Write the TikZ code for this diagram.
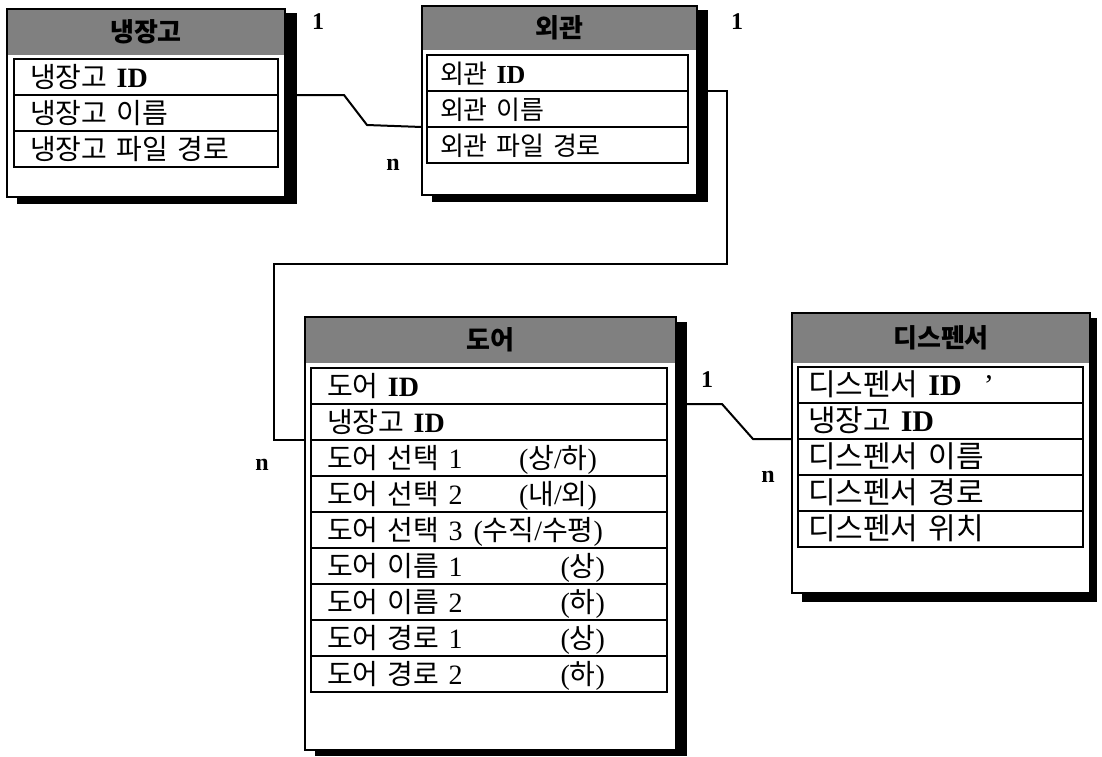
\documentclass[tikz,border=0pt]{standalone}
\usepackage{fontspec}
\setmainfont{Liberation Serif}
\newfontfamily\kr{Noto Sans CJK KR}
\usetikzlibrary{positioning}
\newcommand\hk[1]{{\kr #1}}
\newcommand\idt{{\bfseries ID}}
\newcommand\rfa{\fontsize{28}{32}\selectfont\spaceskip=14pt\relax}
\newcommand\rfb{\fontsize{26}{30}\selectfont\spaceskip=12pt\relax}
\newcommand\rfc{\fontsize{28}{32}\selectfont\spaceskip=9pt\relax}
\newcommand\rfd{\fontsize{30}{34}\selectfont\spaceskip=10pt\relax}
\begin{document}
\begin{tikzpicture}[x=1pt,y=-1pt,
  shadowbox/.style={fill=black, draw=none, anchor=north west, inner sep=0, outer sep=0},
  entbox/.style={draw, line width=1.8pt, fill=white, anchor=north west, inner sep=0, outer sep=0},
  headbox/.style={fill=black!50, draw=none, anchor=north west, inner sep=0, outer sep=0,
    font=\fontsize{26}{30}\selectfont\kr\bfseries},
  rowbox/.style={draw, line width=1.6pt, outer sep=0, inner ysep=0, minimum height=36,
    align=left, text height=22, text depth=2},
  frow/.style={rowbox, text width=232, inner xsep=16, font=\rfa},
  arow/.style={rowbox, text width=235, inner xsep=13, font=\rfb},
  drow/.style={rowbox, text width=324, inner xsep=16, font=\rfc},
  prow/.style={rowbox, text width=265, inner xsep=10, font=\rfd},
  card/.style={font=\fontsize{24}{28}\selectfont\bfseries, inner sep=0},
  conn/.style={line width=2pt, line join=miter},
  frame/.style={line width=1.8pt},
]
\useasboundingbox (0,0) rectangle (1102,756);

% ---------- 냉장고 ----------
\node[shadowbox, minimum width=280, minimum height=191] (fridgeS) at (17,13) {};
\node[entbox, minimum width=278, minimum height=188] (fridge) at (7,9) {};
\node[headbox, minimum width=278, minimum height=46] (fridgeH) at (7,9) {냉장고};
\draw[frame] (fridge.north west) rectangle (fridge.south east);
\node[frow, anchor=north west] (f1) at (14,59) {\hk{냉장고} \idt};
\node[frow, below=0pt of f1] (f2) {\hk{냉장고 이름}};
\node[frow, below=0pt of f2] (f3) {\hk{냉장고 파일 경로}};

% ---------- 외관 ----------
\node[shadowbox, minimum width=276, minimum height=192] (extS) at (432,10) {};
\node[entbox, minimum width=275, minimum height=189] (ext) at (422,6) {};
\node[headbox, minimum width=275, minimum height=44] (extH) at (422,6) {외관};
\draw[frame] (ext.north west) rectangle (ext.south east);
\node[arow, anchor=north west] (a1) at (427,55) {\hk{외관} \idt};
\node[arow, below=0pt of a1] (a2) {\hk{외관 이름}};
\node[arow, below=0pt of a2] (a3) {\hk{외관 파일 경로}};

% ---------- 도어 ----------
\node[shadowbox, minimum width=372, minimum height=434] (doorS) at (315,322) {};
\node[entbox, minimum width=371, minimum height=433] (door) at (305,317) {};
\node[headbox, minimum width=371, minimum height=46] (doorH) at (305,317) {도어};
\draw[frame] (door.north west) rectangle (door.south east);
\node[drow, anchor=north west] (d1) at (311,368) {\hk{도어} \idt};
\node[drow, below=0pt of d1] (d2) {\hk{냉장고} \idt};
\node[drow, below=0pt of d2] (d3) {\hk{도어 선택} 1\hfill(\hk{상}/\hk{하})\kern54pt};
\node[drow, below=0pt of d3] (d4) {\hk{도어 선택} 2\hfill(\hk{내}/\hk{외})\kern54pt};
\node[drow, below=0pt of d4] (d5) {\hk{도어 선택} 3\hfill(\hk{수직}/\hk{수평})\kern48pt};
\node[drow, below=0pt of d5] (d6) {\hk{도어 이름} 1\hfill(\hk{상})\kern46pt};
\node[drow, below=0pt of d6] (d7) {\hk{도어 이름} 2\hfill(\hk{하})\kern46pt};
\node[drow, below=0pt of d7] (d8) {\hk{도어 경로} 1\hfill(\hk{상})\kern46pt};
\node[drow, below=0pt of d8] (d9) {\hk{도어 경로} 2\hfill(\hk{하})\kern46pt};

% ---------- 디스펜서 ----------
\node[shadowbox, minimum width=295, minimum height=284] (dispS) at (802,318) {};
\node[entbox, minimum width=298, minimum height=280] (disp) at (792,313) {};
\node[headbox, minimum width=298, minimum height=50] (dispH) at (792,313) {디스펜서};
\draw[frame] (disp.north west) rectangle (disp.south east);
\node[prow, anchor=north west] (p1) at (798,367) {\hk{디스펜서} \idt\kern22pt'};
\node[prow, below=0pt of p1] (p2) {\hk{냉장고} \idt};
\node[prow, below=0pt of p2] (p3) {\hk{디스펜서 이름}};
\node[prow, below=0pt of p3] (p4) {\hk{디스펜서 경로}};
\node[prow, below=0pt of p4] (p5) {\hk{디스펜서 위치}};

% ---------- connectors ----------
\draw[conn] (fridgeS.east |- f2.north) -- (344,95) -- (367,125) -- (ext.west |- a3.north);
\draw[conn] (extS.east |- a2.north) -- (727,91) -- (727,264) -- (274,264) -- (274,440) -- (door.west |- d3.north);
\draw[conn] (doorS.east |- d2.north) -- (722,404) -- (753,439) -- (disp.west |- p3.north);

% ---------- cardinalities ----------
\node[card] (k1) at (318,22) {1};
\node[card] (k2) at (393,165) {n};
\node[card] (k3) at (737,22) {1};
\node[card] (k4) at (262,465) {n};
\node[card] (k5) at (707,380) {1};
\node[card] (k6) at (768,477) {n};
\end{tikzpicture}
\end{document}
